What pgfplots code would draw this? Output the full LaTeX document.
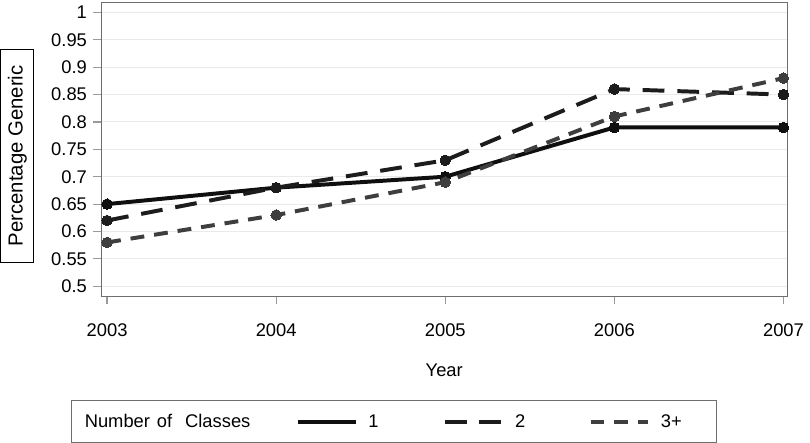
\documentclass[border=0pt]{standalone}
\usepackage{fontspec}
\setmainfont{Liberation Sans}
\usepackage{pgfplots}
\pgfplotsset{compat=1.18}
\definecolor{axisgray}{HTML}{6E6E6E}
\definecolor{tickgray}{HTML}{9A9A9A}
\definecolor{gridgray}{HTML}{EAEAEA}
\definecolor{oneblack}{HTML}{0F0F0F}
\definecolor{twoblack}{HTML}{1C1C1C}
\definecolor{threegray}{HTML}{3E3E3E}

\begin{document}
\fontsize{18.5bp}{21bp}\selectfont
\begin{tikzpicture}
\begin{axis}[
  scale only axis,
  width=692bp, height=296bp,
  xmin=2002.965, xmax=2007.023,
  ymin=0.482, ymax=1.018,
  xtick={2003,2004,2005,2006,2007},
  xticklabels={2003,2004,2005,2006,2007},
  ytick={0.5,0.55,0.6,0.65,0.7,0.75,0.8,0.85,0.9,0.95,1},
  yticklabels={0.5,0.55,0.6,0.65,0.7,0.75,0.8,0.85,0.9,0.95,1},
  xtick pos=bottom, ytick pos=left,
  tick align=outside,
  major tick length=8bp,
  tick style={tickgray, line width=1.2bp},
  axis line style={axisgray, line width=1.2bp},
  ymajorgrids,
  grid style={gridgray, line width=1bp},
  ticklabel style={font=\fontsize{18.5bp}{21bp}\selectfont, text=black},
  xticklabel style={yshift=-13bp},
  xlabel={Year},
  xlabel style={at={(axis description cs:0.5,-0.2753)}, anchor=base,
    font=\fontsize{18.5bp}{21bp}\selectfont},
  ylabel={Percentage Generic},
  ylabel style={at={(axis description cs:-0.1221,0.478)}, anchor=center,
    rotate=0, draw=black, line width=1bp, inner sep=0bp,
    minimum width=215bp, minimum height=33bp,
    font=\fontsize{20.5bp}{23bp}\selectfont},
  clip=false,
  legend columns=4,
  legend image code/.code={\draw[#1] (0bp,0bp) -- (58bp,0bp);},
  legend style={
    at={(axis description cs:-0.04335,-0.3547)}, anchor=north west,
    draw=axisgray, line width=1bp,
    inner xsep=2bp, inner ysep=14.5bp,
    nodes={inner sep=0bp, text height=13bp, text depth=0bp,
      font=\fontsize{18.5bp}{21bp}\selectfont},
    /tikz/every odd column/.append style={column sep=11bp},
  },
]

\addlegendimage{empty legend}
\addlegendentry{\makebox[213bp][l]{Number\hspace{7bp}of\hspace{13bp}Classes}}

% 1 class
\addplot[oneblack, line width=4bp, mark=*, mark size=5.3bp,
  mark options={solid, fill=oneblack, draw=oneblack, line width=0bp}]
  coordinates {(2003,0.65) (2004,0.68) (2005,0.70) (2006,0.79) (2007,0.79)};
\addlegendentry{\makebox[75bp][l]{1}}

% 2 classes
\addplot[twoblack, line width=4bp, dash pattern=on 22bp off 13bp,
  mark=*, mark size=5.3bp,
  mark options={solid, fill=twoblack, draw=twoblack, line width=0bp}]
  coordinates {(2003,0.62) (2004,0.68) (2005,0.73) (2006,0.86) (2007,0.85)};
\addlegendentry{\makebox[74bp][l]{2}}

% 3+ classes
\addplot[threegray, line width=4bp, dash pattern=on 14bp off 10bp,
  mark=*, mark size=5.3bp,
  mark options={solid, fill=threegray, draw=threegray, line width=0bp}]
  coordinates {(2003,0.58) (2004,0.63) (2005,0.69) (2006,0.81) (2007,0.88)};
\addlegendentry{\makebox[54bp][l]{3+}}

\end{axis}
\path (-102bp,-148bp) rectangle (708bp,297bp);
\end{tikzpicture}
\end{document}
